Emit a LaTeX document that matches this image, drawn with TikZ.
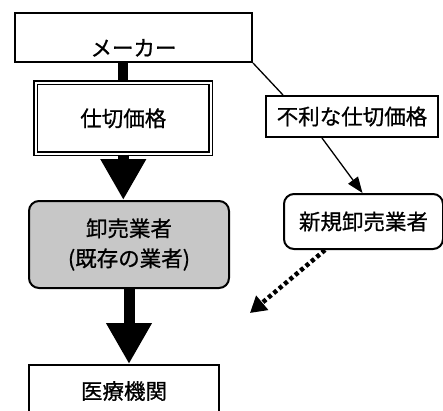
\documentclass[tikz,border=0pt]{standalone}
\usepackage{fontspec}
\setmainfont{Noto Sans CJK JP}[FakeBold=0.8]
\usetikzlibrary{arrows.meta,calc}
\begin{document}
\begin{tikzpicture}[x=1pt,y=-1pt,
  box/.style={draw,line width=2pt,inner sep=0pt,anchor=north west,align=center,font=\fontsize{21.5}{30}\selectfont},
  link/.style={line width=1.3pt},
  bigarrow/.style={line width=11pt,-{Triangle[width=43pt,length=41pt]}}]
\useasboundingbox (0,0) rectangle (443,410);
\clip (0,0) rectangle (443,410);
\node[box,minimum width=237pt,text height=43pt,text depth=6pt] (maker) at (14,12) {メーカー};
\node[box,double,double distance=2pt,line width=1.6pt,minimum width=175pt,minimum height=71pt] (shikiri) at (35,82) {仕切価格};
\node[box,rounded corners=10pt,fill=black!22,minimum width=200pt,minimum height=87pt] (oroshi) at (28,200) {卸売業者\\(既存の業者)};
\node[box,minimum width=190pt,minimum height=52pt] (iryo) at (28,364) {医療機関};
\node[box,minimum width=172pt,minimum height=41pt] (furi) at (265,95) {不利な仕切価格};
\node[box,rounded corners=10pt,minimum width=159pt,minimum height=55pt] (shinki) at (283,193) {新規卸売業者};
\coordinate (dotend) at (250,313);
\draw[line width=10pt] (shikiri.north |- maker.south) -- (shikiri.north);
\draw[bigarrow] (shikiri.south) -- (shikiri.south |- oroshi.north);
\draw[bigarrow] (oroshi.south) -- (oroshi.south |- iryo.north);
\draw[link] (maker.south east) -- ([xshift=18pt]furi.north west);
\draw[link,-{Triangle[width=12pt,length=16pt]}] ([xshift=57pt]furi.south west) -- ([xshift=-1pt]shinki.north);
\draw[line width=4.5pt,dash pattern=on 4pt off 3pt,-{Triangle[width=18pt,length=16pt]}] ([xshift=42pt]shinki.south west) -- (dotend);
\end{tikzpicture}
\end{document}
